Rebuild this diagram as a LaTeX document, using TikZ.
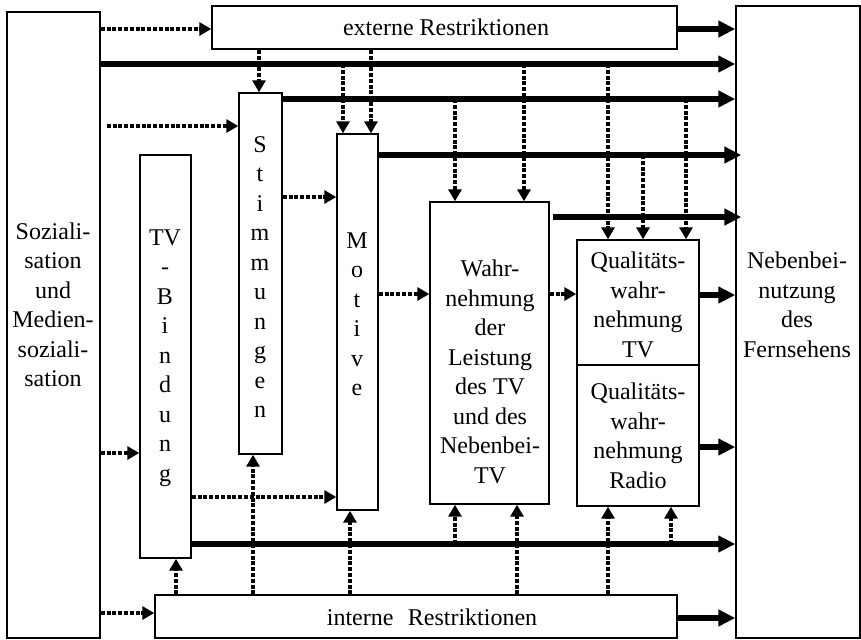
\documentclass[tikz,border=0pt]{standalone}
\usepackage{fontspec}
\setmainfont{Liberation Serif}
\usetikzlibrary{arrows.meta,fit,calc}
\tikzset{
  box/.style={draw, line width=0.7pt, inner sep=0pt, fill=white},
  txt/.style={font=\fontsize{12}{14.75}\selectfont, align=center, inner sep=0pt},
  thickarrow/.style={line width=3pt, -{Triangle[length=8.5pt,width=8pt]}},
  dotarrow/.style={line width=2pt, dash pattern=on 2pt off 0.9pt, -{Triangle[length=6pt,width=6.5pt]}}
}
\begin{document}
\begin{tikzpicture}[x=0.5pt,y=-0.5pt]
\useasboundingbox (0,0) rectangle (861,639);
% boxes
\node[box, fit={(7,12) (100,638)}] (L) {};
\node[box, fit={(736,6) (860,638)}] (R) {};
\node[box, fit={(212,6) (677,49)}] (E) {};
\node[box, fit={(155,595) (677,638)}] (I) {};
\node[box, fit={(140,155) (191,558)}] (T) {};
\node[box, fit={(239,93) (282,454)}] (S) {};
\node[box, fit={(337,134) (378,510)}] (M) {};
\node[box, fit={(430,202) (549,504)}] (W) {};
\node[box, fit={(577,240) (699,365)}] (Q) {};
\node[box, fit={(577,365) (699,506)}] (Rd) {};
% texts
\node[txt] (Ltx) at (53,305) {Soziali-\\sation\\und\\Medien-\\soziali-\\sation};
\node[txt] (Rtx) at (797,305) {Nebenbei-\\nutzung\\des\\Fernsehens};
\node[txt] (Etx) at (446,27) {externe Restriktionen};
\node[txt] (Itx) at (432,617) {interne\hspace{0.6em}Restriktionen};
\node[txt] (Ttx) at (165,358) {TV\\-\\B\\i\\n\\d\\u\\n\\g};
\node[txt] (Stx) at (260,277) {S\\t\\i\\m\\m\\u\\n\\g\\e\\n};
\node[txt] (Mtx) at (357,314) {M\\o\\t\\i\\v\\e};
\node[txt] (Wtx) at (490,372) {Wahr-\\nehmung\\der\\Leistung\\des TV\\und des\\Nebenbei-\\TV};
\node[txt] (Qtx) at (638,305) {Qualitäts-\\wahr-\\nehmung\\TV};
\node[txt] (Rdtx) at (638,436) {Qualitäts-\\wahr-\\nehmung\\Radio};
% coordinates on thick lines
\coordinate (a1) at (343,64);
\coordinate (a2) at (524,64);
\coordinate (a3) at (608,64);
\coordinate (b1) at (455,99);
\coordinate (b2) at (686,99);
\coordinate (c1) at (643,155);
\coordinate (d1) at (455,544);
\coordinate (d2) at (671,544);
% dotted vertical
\draw[dotarrow] (259,0 |- E.south) -- (259,0 |- S.north);
\draw[dotarrow] (371,0 |- E.south) -- (371,0 |- M.north);
\draw[dotarrow] (a1) -- (a1 |- M.north);
\draw[dotarrow] (a2) -- (a2 |- W.north);
\draw[dotarrow] (a3) -- (a3 |- Q.north);
\draw[dotarrow] (b1) -- (b1 |- W.north);
\draw[dotarrow] (b2) -- (b2 |- Q.north);
\draw[dotarrow] (c1) -- (c1 |- Q.north);
\draw[dotarrow] (176,0 |- I.north) -- (176,0 |- T.south);
\draw[dotarrow] (253,0 |- I.north) -- (253,0 |- S.south);
\draw[dotarrow] (350,0 |- I.north) -- (350,0 |- M.south);
\draw[dotarrow] (517,0 |- I.north) -- (517,0 |- W.south);
\draw[dotarrow] (608,0 |- I.north) -- (608,0 |- Rd.south);
\draw[dotarrow] (d1) -- (d1 |- W.south);
\draw[dotarrow] (d2) -- (d2 |- Rd.south);
% dotted horizontal
\draw[dotarrow] (L.east |- 0,29) -- (E.west |- 0,29);
\draw[dotarrow] ($(L.east |- 0,126)+(6,0)$) -- (S.west |- 0,126);
\draw[dotarrow] (S.east |- 0,197) -- (M.west |- 0,197);
\draw[dotarrow] (M.east |- 0,294) -- (W.west |- 0,294);
\draw[dotarrow] (W.east |- 0,294) -- (Q.west |- 0,294);
\draw[dotarrow] (L.east |- 0,453) -- (T.west |- 0,453);
\draw[dotarrow] (T.east |- 0,497) -- (M.west |- 0,497);
\draw[dotarrow] (L.east |- 0,613) -- (I.west |- 0,613);
% thick arrows
\draw[thickarrow] (E.east |- 0,29) -- (R.west |- 0,29);
\draw[thickarrow] (L.east |- 0,64) -- (R.west |- 0,64);
\draw[thickarrow] (S.east |- 0,99) -- (R.west |- 0,99);
\draw[thickarrow] (M.east |- 0,155) -- ($(R.west |- 0,155)+(6,0)$);
\draw[thickarrow] ($(W.east |- 0,217)+(3,0)$) -- ($(R.west |- 0,217)+(6,0)$);
\draw[thickarrow] (Q.east |- 0,295) -- (R.west |- 0,295);
\draw[thickarrow] (Rd.east |- 0,447) -- (R.west |- 0,447);
\draw[thickarrow] (T.east |- 0,544) -- (R.west |- 0,544);
\draw[thickarrow] (I.east |- 0,618) -- (R.west |- 0,618);
\end{tikzpicture}
\end{document}
